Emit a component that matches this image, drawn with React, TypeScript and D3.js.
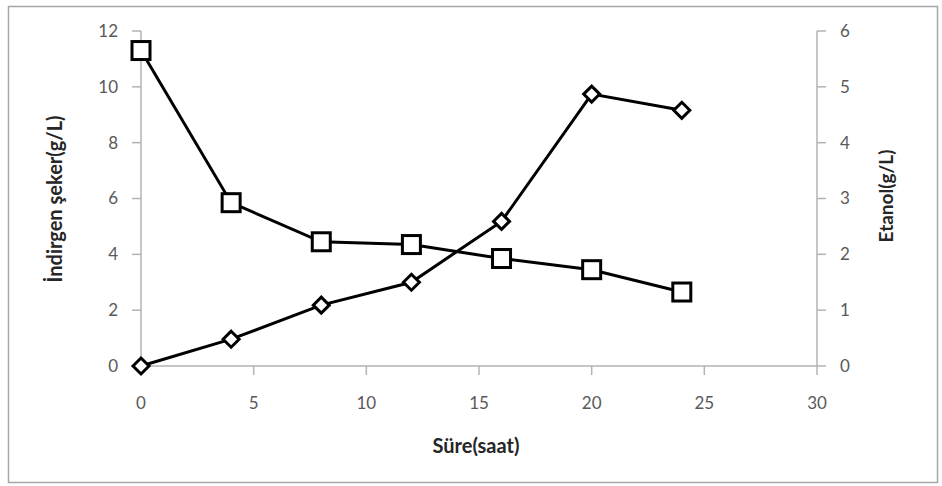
import * as d3 from 'd3';

const hours = [0, 4, 8, 12, 16, 20, 24];
const sugar = [11.3, 5.85, 4.45, 4.35, 3.85, 3.45, 2.65];
const ethanol = [0, 0.48, 1.09, 1.5, 2.59, 4.87, 4.58];
const xTicks = [0, 5, 10, 15, 20, 25, 30];
const leftTicks = [0, 2, 4, 6, 8, 10, 12];
const rightTicks = [0, 1, 2, 3, 4, 5, 6];

const width = 942;
const height = 486;
const margin = { top: 31, right: 125, bottom: 120, left: 141 };

export default function App() {
  const x = d3.scaleLinear().domain([0, 30]).range([margin.left, width - margin.right]);
  const yL = d3.scaleLinear().domain([0, 12]).range([height - margin.bottom, margin.top]);
  const yR = d3.scaleLinear().domain([0, 6]).range([height - margin.bottom, margin.top]);

  const sugarLine = d3
    .line<number>()
    .x((_, i) => x(hours[i]))
    .y((d) => yL(d));
  const ethanolLine = d3
    .line<number>()
    .x((_, i) => x(hours[i]))
    .y((d) => yR(d));

  const axisColor = '#b3b3b3';
  const tickText = '#595959';
  const font = 'Lato, "Open Sans", sans-serif';
  const x0 = x(0);
  const x1 = x(30);
  const yb = yL(0);
  const yt = yL(12);

  return (
    <svg
      width={width}
      height={height}
      style={{ position: 'absolute', left: 0, top: 0, background: '#fff' }}
      fontFamily={font}
    >
      <rect x={8.5} y={6.5} width={929} height={476} fill="#fff" stroke="#a6a6a6" strokeWidth={1.5} />

      {/* axes */}
      <line x1={x0} x2={x1} y1={yb} y2={yb} stroke={axisColor} strokeWidth={1.5} />
      <line x1={x0} x2={x0} y1={yt} y2={yb} stroke={axisColor} strokeWidth={1.5} />
      <line x1={x1} x2={x1} y1={yt} y2={yb} stroke={axisColor} strokeWidth={1.5} />

      {xTicks.map((t) => (
        <g key={'x' + t}>
          <line x1={x(t)} x2={x(t)} y1={yb} y2={yb + 9} stroke={axisColor} strokeWidth={1.5} />
          <text x={x(t)} y={yb + 43} textAnchor="middle" fontSize={17} fill={tickText}>
            {t}
          </text>
        </g>
      ))}
      {leftTicks.map((t) => (
        <g key={'l' + t}>
          <line x1={x0 - 9} x2={x0} y1={yL(t)} y2={yL(t)} stroke={axisColor} strokeWidth={1.5} />
          <text x={x0 - 23} y={yL(t)} dy="0.35em" textAnchor="end" fontSize={17} fill={tickText}>
            {t}
          </text>
        </g>
      ))}
      {rightTicks.map((t) => (
        <g key={'r' + t}>
          <line x1={x1} x2={x1 + 9} y1={yR(t)} y2={yR(t)} stroke={axisColor} strokeWidth={1.5} />
          <text x={x1 + 23} y={yR(t)} dy="0.35em" textAnchor="start" fontSize={17} fill={tickText}>
            {t}
          </text>
        </g>
      ))}

      {/* axis titles */}
      <text x={476} y={453} textAnchor="middle" fontSize={20} fontWeight="bold" fill="#262626">
        Süre(saat)
      </text>
      <text
        transform={`translate(62, 199) rotate(-90)`}
        textAnchor="middle"
        fontSize={20}
        fontWeight="bold"
        fill="#262626"
      >
        İndirgen şeker(g/L)
      </text>
      <text
        transform={`translate(893, 196) rotate(-90)`}
        textAnchor="middle"
        fontSize={19}
        fontWeight="bold"
        fill="#262626"
      >
        Etanol(g/L)
      </text>

      {/* series */}
      <path d={sugarLine(sugar) ?? ''} fill="none" stroke="#000" strokeWidth={3} />
      <path d={ethanolLine(ethanol) ?? ''} fill="none" stroke="#000" strokeWidth={3} />

      {sugar.map((v, i) => (
        <rect
          key={'s' + i}
          x={x(hours[i]) - 9}
          y={yL(v) - 9}
          width={18}
          height={18}
          fill="#fff"
          stroke="#000"
          strokeWidth={3}
        />
      ))}
      {ethanol.map((v, i) => {
        const cx = x(hours[i]);
        const cy = yR(v);
        const r = 8;
        return (
          <path
            key={'e' + i}
            d={`M${cx},${cy - r}L${cx + r},${cy}L${cx},${cy + r}L${cx - r},${cy}Z`}
            fill="#fff"
            stroke="#000"
            strokeWidth={3}
          />
        );
      })}
    </svg>
  );
}
